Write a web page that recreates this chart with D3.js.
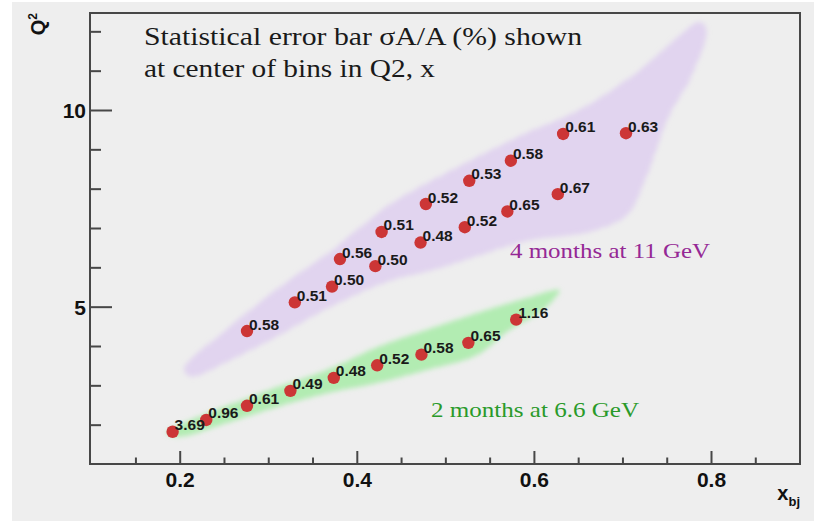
<!DOCTYPE html>
<html>
<head>
<meta charset="utf-8">
<script src="https://cdn.jsdelivr.net/npm/d3@7"></script>
<style>
  html, body { margin: 0; padding: 0; background: #ffffff; }
  svg { display: block; }
</style>
</head>
<body>
<svg id="chart" width="814" height="521"></svg>
<script>
// ---------------- data ----------------
const xMajorTicks = [0.2, 0.4, 0.6, 0.8];
const xMinorTicks = [0.15, 0.25, 0.3, 0.35, 0.45, 0.5, 0.55, 0.65, 0.7, 0.75, 0.85];
const yMajorTicks = [5, 10];
const yMinorTicks = [2, 3, 4, 6, 7, 8, 9, 11, 12];

// 11 GeV (4 months) bin centres and statistical errors (%)
const purpleX   = [0.276, 0.330, 0.372, 0.381, 0.421, 0.428, 0.472, 0.478, 0.522, 0.527, 0.570, 0.574, 0.627, 0.633, 0.704];
const purpleQ2  = [4.38, 5.11, 5.51, 6.21, 6.03, 6.90, 6.63, 7.61, 7.02, 8.20, 7.42, 8.71, 7.86, 9.39, 9.41];
const purpleErr = ["0.58", "0.51", "0.50", "0.56", "0.50", "0.51", "0.48", "0.52", "0.52", "0.53", "0.65", "0.58", "0.67", "0.61", "0.63"];

// 6.6 GeV (2 months)
const greenX   = [0.192, 0.230, 0.276, 0.325, 0.374, 0.423, 0.473, 0.526, 0.580];
const greenQ2  = [1.82, 2.12, 2.48, 2.86, 3.19, 3.51, 3.78, 4.08, 4.67];
const greenErr = ["3.69", "0.96", "0.61", "0.49", "0.48", "0.52", "0.58", "0.65", "1.16"];

// acceptance regions (outline of the simulated event clouds), [x, Q2]
const purpleRegionX = [0.205, 0.257, 0.313, 0.370, 0.400, 0.437, 0.505, 0.581, 0.655, 0.720, 0.788, 0.795, 0.776, 0.753, 0.728, 0.705, 0.663, 0.596, 0.539, 0.486, 0.434, 0.370, 0.313, 0.257, 0.212];
const purpleRegionY = [3.40, 4.50, 5.50, 6.40, 6.95, 7.60, 8.45, 9.31, 10.05, 11.02, 12.24, 12.03, 10.76, 9.87, 8.35, 7.33, 6.90, 6.69, 6.31, 5.93, 5.63, 4.99, 4.28, 3.64, 3.22];
const greenRegionX = [0.185, 0.291, 0.366, 0.423, 0.479, 0.536, 0.592, 0.629, 0.610, 0.573, 0.536, 0.479, 0.423, 0.366, 0.310, 0.253, 0.200];
const greenRegionY = [1.78, 2.80, 3.39, 3.97, 4.41, 4.84, 5.22, 5.42, 4.91, 4.41, 3.77, 3.39, 3.06, 2.80, 2.45, 2.04, 1.69];

const noteLines = ["Statistical error bar \u03C3A/A (%) shown", "at center of bins in Q2, x"];
const purpleLabel = "4 months at 11 GeV";
const greenLabel = "2 months at 6.6 GeV";

// ---------------- drawing ----------------
const svg = d3.select("#chart");
const frame = {left: 90, right: 800, top: 13, bottom: 464};

svg.append("rect").attr("x", 12).attr("y", 2).attr("width", 802).attr("height", 519).attr("fill", "#eeeeee");

const x = d3.scaleLinear().domain([0.0987, 0.9005]).range([frame.left, frame.right]);
const y = d3.scaleLinear().domain([1.0, 12.466]).range([frame.bottom, frame.top]);

const defs = svg.append("defs");
defs.append("filter").attr("id", "soft").attr("x", "-10%").attr("y", "-10%").attr("width", "120%").attr("height", "120%")
  .append("feGaussianBlur").attr("stdDeviation", 2.5);

// fine stipple textures for the event clouds (fixed, hand-placed dot grid)
function stipple(id, color, bg, bgOpacity) {
  const p = defs.append("pattern").attr("id", id).attr("patternUnits", "userSpaceOnUse")
    .attr("width", 7).attr("height", 7);
  p.append("rect").attr("width", 7).attr("height", 7).attr("fill", bg).attr("fill-opacity", bgOpacity);
  [[1, 1], [4.5, 2], [2.5, 4.5], [6, 5.5], [0.5, 6], [5, 0.2], [3.5, 3]].forEach(([a, b]) =>
    p.append("circle").attr("cx", a).attr("cy", b).attr("r", 0.65).attr("fill", color));
}
stipple("purpleDots", "#c08ef0", "#dcc9f0", 0.55);
stipple("greenDots", "#66e066", "#a8eea8", 0.75);

const line = d3.line().x(d => x(d[0])).y(d => y(d[1])).curve(d3.curveCatmullRomClosed.alpha(0.5));

const purplePoly = purpleRegionX.map((v, i) => [v, purpleRegionY[i]]);
const greenPoly = greenRegionX.map((v, i) => [v, greenRegionY[i]]);

svg.append("path").attr("d", line(purplePoly)).attr("fill", "url(#purpleDots)").attr("fill-opacity", 0.8).attr("filter", "url(#soft)");
svg.append("path").attr("d", line(greenPoly)).attr("fill", "url(#greenDots)").attr("fill-opacity", 0.9).attr("filter", "url(#soft)");

// frame
svg.append("rect").attr("x", frame.left).attr("y", frame.top)
  .attr("width", frame.right - frame.left).attr("height", frame.bottom - frame.top)
  .attr("fill", "none").attr("stroke", "#474747").attr("stroke-width", 2);

// axes (ticks pointing inwards)
const axisColor = "#474747";
function styleAxis(g) {
  g.select(".domain").remove();
  g.selectAll(".tick line").attr("stroke", axisColor).attr("stroke-width", 2);
}
svg.append("g").attr("transform", `translate(0,${frame.bottom})`)
  .call(d3.axisBottom(x).tickValues(xMinorTicks).tickSize(-6.5).tickFormat(""))
  .call(styleAxis);
const xMaj = svg.append("g").attr("transform", `translate(0,${frame.bottom})`)
  .call(d3.axisBottom(x).tickValues(xMajorTicks).tickSize(-13).tickPadding(0).tickFormat(d3.format(".1f")))
  .call(styleAxis);
xMaj.selectAll(".tick text").attr("y", 23).attr("dy", 0)
  .attr("font-family", "Liberation Sans, Arial, sans-serif").attr("font-weight", "bold")
  .attr("font-size", 21).attr("fill", "#111");

svg.append("g").attr("transform", `translate(${frame.left},0)`)
  .call(d3.axisLeft(y).tickValues(yMinorTicks).tickSize(-11).tickFormat(""))
  .call(styleAxis);
const yMaj = svg.append("g").attr("transform", `translate(${frame.left},0)`)
  .call(d3.axisLeft(y).tickValues(yMajorTicks).tickSize(-22).tickFormat(d3.format("d")))
  .call(styleAxis);
yMaj.selectAll(".tick text").attr("x", -4).attr("dy", "0.36em")
  .attr("font-family", "Liberation Sans, Arial, sans-serif").attr("font-weight", "bold")
  .attr("font-size", 21).attr("fill", "#111");

// axis titles
const q2 = svg.append("text").attr("transform", "translate(45,13) rotate(-90)")
  .attr("text-anchor", "end").attr("font-family", "Liberation Sans, Arial, sans-serif")
  .attr("font-weight", "bold").attr("font-size", 20).attr("fill", "#111");
q2.append("tspan").text("Q");
q2.append("tspan").attr("font-size", 12).attr("dy", -8).text("2");

const xt = svg.append("text").attr("x", 800).attr("y", 500)
  .attr("text-anchor", "end").attr("font-family", "Liberation Sans, Arial, sans-serif")
  .attr("font-weight", "bold").attr("font-size", 20).attr("fill", "#111");
xt.append("tspan").text("x");
xt.append("tspan").attr("font-size", 13).attr("dy", 6).text("bj");

// points
function drawSeries(xs, ys, labels) {
  const data = xs.map((v, i) => ({x: v, y: ys[i], t: labels[i]}));
  const g = svg.append("g");
  g.selectAll("circle").data(data).join("circle")
    .attr("cx", d => x(d.x)).attr("cy", d => y(d.y)).attr("r", 6.2)
    .attr("fill", "#cc3636");
  g.selectAll("text").data(data).join("text")
    .attr("x", d => x(d.x) + 2).attr("y", d => y(d.y) - 1.5)
    .attr("font-family", "Liberation Sans, Arial, sans-serif").attr("font-weight", "bold")
    .attr("font-size", 15.5).attr("fill", "#1a1a1a").text(d => d.t);
}
drawSeries(purpleX, purpleQ2, purpleErr);
drawSeries(greenX, greenQ2, greenErr);

// notes
const serif = "'Palatino Linotype', Palatino, 'Liberation Serif', 'DejaVu Serif', serif";
svg.append("text").attr("x", 144).attr("y", 45).attr("font-family", serif).attr("font-size", 25)
  .attr("fill", "#1a1a1a").attr("textLength", 438).attr("lengthAdjust", "spacingAndGlyphs").text(noteLines[0]);
svg.append("text").attr("x", 144).attr("y", 77).attr("font-family", serif).attr("font-size", 25)
  .attr("fill", "#1a1a1a").attr("textLength", 291).attr("lengthAdjust", "spacingAndGlyphs").text(noteLines[1]);

svg.append("text").attr("x", 510).attr("y", 258).attr("font-family", serif).attr("font-size", 22)
  .attr("fill", "#952895").attr("textLength", 200).attr("lengthAdjust", "spacingAndGlyphs").text(purpleLabel);
svg.append("text").attr("x", 431).attr("y", 417).attr("font-family", serif).attr("font-size", 22)
  .attr("fill", "#2a9a2a").attr("textLength", 208).attr("lengthAdjust", "spacingAndGlyphs").text(greenLabel);
</script>
</body>
</html>
